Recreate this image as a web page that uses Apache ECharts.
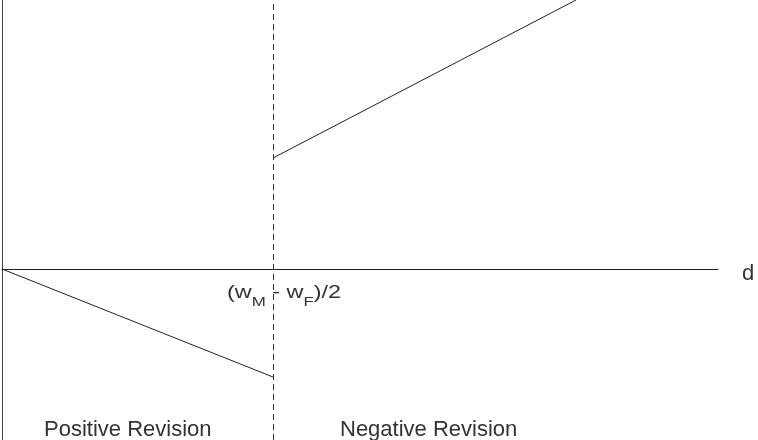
<!DOCTYPE html>
<html>
<head>
<meta charset="utf-8">
<script src="https://cdn.jsdelivr.net/npm/echarts@6/dist/echarts.min.js"></script>
<style>
  html, body { margin: 0; padding: 0; background: #fff; }
  #container { width: 758px; height: 440px; }
</style>
</head>
<body>
<div id="container"></div>
<script>
// schematic: revision against d, split at the threshold (w_M - w_F)/2
var threshold = 271;
var xRange = [0, 716];
var yRange = [-171, 269];
// left branch (positive revision) and right branch (negative revision)
var lowerBranch = [[0, 0], [271, -108]];
var upperBranch = [[271, 111], [574, 269]];
var regionLabels = ['Positive Revision', 'Negative Revision'];
var axisName = 'd';

var myChart = echarts.init(document.getElementById('container'));

var lineStyle = {color: '#222', width: 1};

var options = {
    animation: false,
    grid: {left: 2, right: 40, top: 0, bottom: 0},
    xAxis: {
        type: 'value',
        min: xRange[0],
        max: xRange[1],
        name: '{n|' + axisName + '}',
        nameLocation: 'end',
        nameGap: 24,
        nameTextStyle: {
            rich: {
                n: {fontSize: 22, color: '#333', fontFamily: 'Liberation Sans', padding: [10, 0, 0, 0]}
            }
        },
        axisLine: {show: true, onZero: true, lineStyle: {color: '#222', width: 1}},
        axisTick: {show: false},
        axisLabel: {show: false},
        splitLine: {show: false}
    },
    yAxis: {
        type: 'value',
        min: yRange[0],
        max: yRange[1],
        axisLine: {show: true, onZero: true, lineStyle: {color: '#444', width: 1}},
        axisTick: {show: false},
        axisLabel: {show: false},
        splitLine: {show: false}
    },
    series: [
        {
            type: 'line',
            data: lowerBranch,
            showSymbol: false,
            silent: true,
            lineStyle: lineStyle,
            markLine: {
                silent: true,
                symbol: 'none',
                label: {show: false},
                lineStyle: {color: '#333', width: 1, type: [6, 4]},
                data: [{xAxis: threshold}]
            }
        },
        {
            type: 'line',
            data: upperBranch,
            showSymbol: false,
            silent: true,
            lineStyle: lineStyle
        }
    ],
    graphic: [
        {
            type: 'text',
            x: 227,
            y: 278,
            scaleX: 1.3,
            style: {
                text: '{m|(w}{s|M}{m| - w}{s|F}{m|)/2}',
                fill: '#333',
                fontFamily: 'Liberation Sans',
                rich: {
                    m: {fontSize: 18, fontFamily: 'Liberation Sans', fill: '#333'},
                    s: {fontSize: 13, fontFamily: 'Liberation Sans', fill: '#333', padding: [18, 0, 0, 0]}
                }
            }
        },
        {
            type: 'text',
            left: 44,
            top: 419,
            style: {
                text: regionLabels[0],
                fontSize: 22,
                fontFamily: 'Liberation Sans',
                fill: '#333'
            }
        },
        {
            type: 'text',
            left: 340,
            top: 419,
            style: {
                text: regionLabels[1],
                fontSize: 22,
                fontFamily: 'Liberation Sans',
                fill: '#333'
            }
        }
    ]
};

myChart.setOption(options);
</script>
</body>
</html>
